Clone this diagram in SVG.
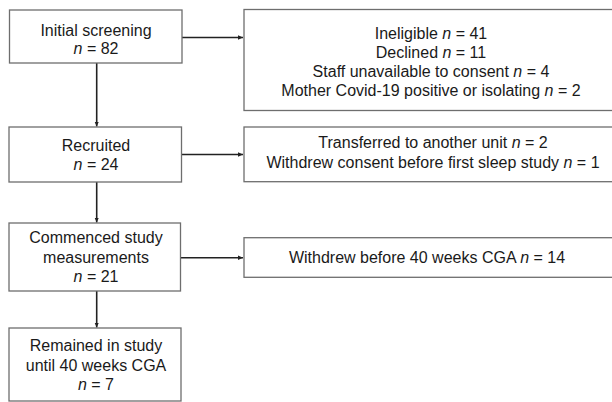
<svg xmlns="http://www.w3.org/2000/svg" width="612" height="402" viewBox="0 0 612 402">
<defs>
<marker id="ah" markerWidth="6" markerHeight="6" refX="5" refY="3" orient="auto" markerUnits="userSpaceOnUse">
<path d="M0,0.8 L5,3 L0,5.2 Z" fill="#222"/>
</marker>
<style>
.box{fill:#fff;stroke:#6e6e6e;stroke-width:1.3}
.t{font-family:"Liberation Sans",Arial,sans-serif;font-size:16px;fill:#1a1a1a;text-anchor:middle}
.i{font-style:italic}
.c{stroke:#222;stroke-width:1.6;fill:none;marker-end:url(#ah)}
</style>
</defs>
<rect width="612" height="402" fill="#fff"/>
<g id="connectors">
<line class="c" x1="182" y1="37.5" x2="243" y2="37.5"/>
<line class="c" x1="96.7" y1="63" x2="96.7" y2="126.5"/>
<line class="c" x1="182" y1="154.5" x2="243" y2="154.5"/>
<line class="c" x1="96.7" y1="182" x2="96.7" y2="222.5"/>
<line class="c" x1="181" y1="257.7" x2="243" y2="257.7"/>
<line class="c" x1="96.7" y1="291" x2="96.7" y2="327.5"/>
</g>
<g id="screening">
<rect class="box" x="9.5" y="10" width="172.5" height="53"/>
<text class="t" x="96" y="35.7">Initial screening</text>
<text class="t" x="96" y="54"><tspan class="i">n</tspan> = 82</text>
</g>
<g id="excluded">
<rect class="box" x="244" y="9.5" width="374" height="101"/>
<text class="t" x="431" y="39">Ineligible <tspan class="i">n</tspan> = 41</text>
<text class="t" x="431" y="58">Declined <tspan class="i">n</tspan> = 11</text>
<text class="t" x="431" y="77">Staff unavailable to consent <tspan class="i">n</tspan> = 4</text>
<text class="t" x="431" y="96">Mother Covid-19 positive or isolating <tspan class="i">n</tspan> = 2</text>
</g>
<g id="recruited">
<rect class="box" x="9" y="127" width="172.5" height="55"/>
<text class="t" x="96" y="151">Recruited</text>
<text class="t" x="96" y="170"><tspan class="i">n</tspan> = 24</text>
</g>
<g id="dropped">
<rect class="box" x="244" y="127" width="374" height="54.7"/>
<text class="t" x="433" y="148.3">Transferred to another unit <tspan class="i">n</tspan> = 2</text>
<text class="t" x="433" y="167.7">Withdrew consent before first sleep study <tspan class="i">n</tspan> = 1</text>
</g>
<g id="commenced">
<rect class="box" x="9" y="223" width="171.5" height="68"/>
<text class="t" x="96" y="243.3">Commenced study</text>
<text class="t" x="96" y="263.3">measurements</text>
<text class="t" x="96" y="281.7"><tspan class="i">n</tspan> = 21</text>
</g>
<g id="withdrew">
<rect class="box" x="244" y="237.7" width="374" height="39.6"/>
<text class="t" x="427" y="263.3">Withdrew before 40 weeks CGA <tspan class="i">n</tspan> = 14</text>
</g>
<g id="remained">
<rect class="box" x="9" y="328" width="172" height="73"/>
<text class="t" x="96" y="351">Remained in study</text>
<text class="t" x="96" y="370.7">until 40 weeks CGA</text>
<text class="t" x="96" y="390"><tspan class="i">n</tspan> = 7</text>
</g>
</svg>
